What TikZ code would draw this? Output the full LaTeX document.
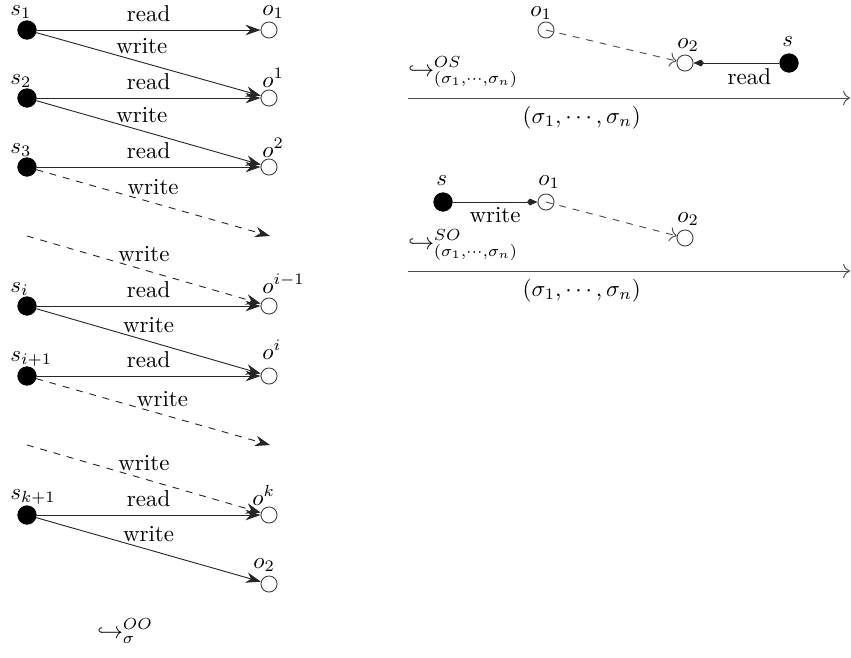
\documentclass[tikz,border=0pt]{standalone}
\usetikzlibrary{arrows.meta, positioning}

\begin{document}
\begin{tikzpicture}[x=0.0153cm, y=-0.0153cm]
    % --- Style Definitions ---
    \tikzset{
        subject style/.style={
            circle,
            fill=black,
            draw=black,
            inner sep=0pt,
            minimum size=8pt
        },
        object style/.style={
            circle,
            draw=black!75,
            inner sep=0pt,
            minimum size=7pt
        },
        name text/.style={inner sep=0pt, anchor=base west},
        edge text/.style={font=\normalsize, text=black},
        access arrow/.style={
            -{Stealth[length=6.5pt, width=4.6pt]},
            black!85
        },
        flow arrow/.style={
            -{Kite[length=4.5pt, width=3pt]},
            black!85
        },
        hidden flow/.style={dashed, black!70, -{To[length=3pt]}},
        order arrow/.style={black!70, -{To[length=3pt]}}
    }

    \useasboundingbox (0,0) rectangle (851,657);

    % ==========================================
    % LEFT DIAGRAM: chain of subjects and objects
    % ==========================================
    \begin{scope}[local bounding box=leftChain]

        % 1. Subjects
        \node[subject style] (s1) at (27,30) {};
        \node[subject style] (s2) at (27,98) {};
        \node[subject style] (s3) at (27,167) {};
        \node[subject style] (si) at (27,306) {};
        \node[subject style] (si1) at (27,376) {};
        \node[subject style] (sk1) at (27,515) {};

        % 2. Objects
        \node[object style, fill=white] (o1) at (269,30) {};
        \node[object style, fill=white] (oa1) at (269,98) {};
        \node[object style, fill=white] (oa2) at (269,167) {};
        \node[object style, fill=white] (oim1) at (269,306) {};
        \node[object style, fill=white] (oi) at (269,376) {};
        \node[object style, fill=white] (ok) at (269,515) {};
        \node[object style, fill=white] (o2) at (269,584) {};

        % loose ends of the elided steps
        \coordinate (gap1_end) at (270,236);
        \coordinate (gap1_start) at (27,236);
        \coordinate (gap2_end) at (270,445);
        \coordinate (gap2_start) at (27,445);

        % 3. Names
        \node[name text] (lbl_s1) at (10,15) {$s_1$};
        \node[name text] (lbl_s2) at (10,84) {$s_2$};
        \node[name text] (lbl_s3) at (10,153) {$s_3$};
        \node[name text] (lbl_si) at (10,292) {$s_i$};
        \node[name text] (lbl_si1) at (10,361) {$s_{i+1}$};
        \node[name text] (lbl_sk1) at (10,499) {$s_{k+1}$};

        \node[name text] (lbl_o1) at (262,15) {$o_1$};
        \node[name text] (lbl_oa1) at (262,87) {$o^1$};
        \node[name text] (lbl_oa2) at (262,157) {$o^2$};
        \node[name text] (lbl_oim1) at (262,293) {$o^{i-1}$};
        \node[name text] (lbl_oi) at (262,359) {$o^i$};
        \node[name text] (lbl_ok) at (252,505) {$o^k$};
        \node[name text] (lbl_o2) at (253,568) {$o_2$};

        % 4. Read and write accesses
        \draw[access arrow] (s1) -- node[edge text, midway, above] (rd1) {read} (o1);
        \draw[access arrow] (s1) -- node[edge text, pos=0.47, above] (wr1) {write} (oa1);
        \draw[access arrow] (s2) -- node[edge text, midway, above] (rd2) {read} (oa1);
        \draw[access arrow] (s2) -- node[edge text, pos=0.47, above] (wr2) {write} (oa2);
        \draw[access arrow] (s3) -- node[edge text, midway, above] (rd3) {read} (oa2);
        \draw[access arrow, dashed] (s3) -- node[edge text, midway, above] (wr3) {write} (gap1_end);

        \draw[access arrow, dashed] (gap1_start) -- node[edge text, midway, above] (wr4) {write} (oim1);
        \draw[access arrow] (si) -- node[edge text, midway, above] (rd5) {read} (oim1);
        \draw[access arrow] (si) -- node[edge text, midway, above] (wr5) {write} (oi);
        \draw[access arrow] (si1) -- node[edge text, midway, above] (rd6) {read} (oi);
        \draw[access arrow, dashed] (si1) -- node[edge text, pos=0.54, above] (wr6) {write} (gap2_end);

        \draw[access arrow, dashed] (gap2_start) -- node[edge text, midway, above] (wr7) {write} (ok);
        \draw[access arrow] (sk1) -- node[edge text, midway, above] (rd8) {read} (ok);
        \draw[access arrow] (sk1) -- node[edge text, midway, above] (wr8) {write} (o2);

        % 5. Relation name
        \node[name text] (rel_oo) at (97,638) {$\hookrightarrow^{OO}_{\sigma}$};

    \end{scope}

    % ==========================================
    % RIGHT TOP: object to subject
    % ==========================================
    \begin{scope}[local bounding box=osSystem]

        % 1. Entities
        \node[object style] (os_o1) at (546,30) {};
        \node[object style] (os_o2) at (685,63) {};
        \node[subject style] (os_s) at (789,63) {};

        \node[name text] (lbl_os_o1) at (530,16) {$o_1$};
        \node[name text] (lbl_os_o2) at (677,48) {$o_2$};
        \node[name text] (lbl_os_s) at (782,46) {$s$};

        % 2. Flows
        \draw[hidden flow] (os_o1.center) -- (os_o2);
        \draw[flow arrow] (os_s) -- node[edge text, pos=0.35, below, inner sep=2pt] (os_read) {read} (os_o2);

        % 3. Relation and sequence
        \node[name text] (rel_os) at (408,76) {$\hookrightarrow^{OS}_{(\sigma_1,\cdots,\sigma_n)}$};
        \coordinate (os_seq_start) at (408,98);
        \coordinate (os_seq_end) at (850,98);
        \draw[order arrow] (os_seq_start) -- node[edge text, pos=0.393, below] (os_seq) {$(\sigma_1,\cdots,\sigma_n)$} (os_seq_end);

    \end{scope}

    % ==========================================
    % RIGHT BOTTOM: subject to object
    % ==========================================
    \begin{scope}[local bounding box=soSystem]

        % 1. Entities
        \node[subject style] (so_s) at (443,202) {};
        \node[object style] (so_o1) at (546,202) {};
        \node[object style] (so_o2) at (685,238) {};

        \node[name text] (lbl_so_s) at (436,185) {$s$};
        \node[name text] (lbl_so_o1) at (538,185) {$o_1$};
        \node[name text] (lbl_so_o2) at (677,222) {$o_2$};

        % 2. Flows
        \draw[flow arrow] (so_s) -- node[edge text, midway, below, inner sep=2pt] (so_write) {write} (so_o1);
        \draw[hidden flow] (so_o1.center) -- (so_o2);

        % 3. Relation and sequence
        \node[name text] (rel_so) at (408,249) {$\hookrightarrow^{SO}_{(\sigma_1,\cdots,\sigma_n)}$};
        \coordinate (so_seq_start) at (408,271);
        \coordinate (so_seq_end) at (850,271);
        \draw[order arrow] (so_seq_start) -- node[edge text, pos=0.393, below] (so_seq) {$(\sigma_1,\cdots,\sigma_n)$} (so_seq_end);

    \end{scope}

\end{tikzpicture}
\end{document}
